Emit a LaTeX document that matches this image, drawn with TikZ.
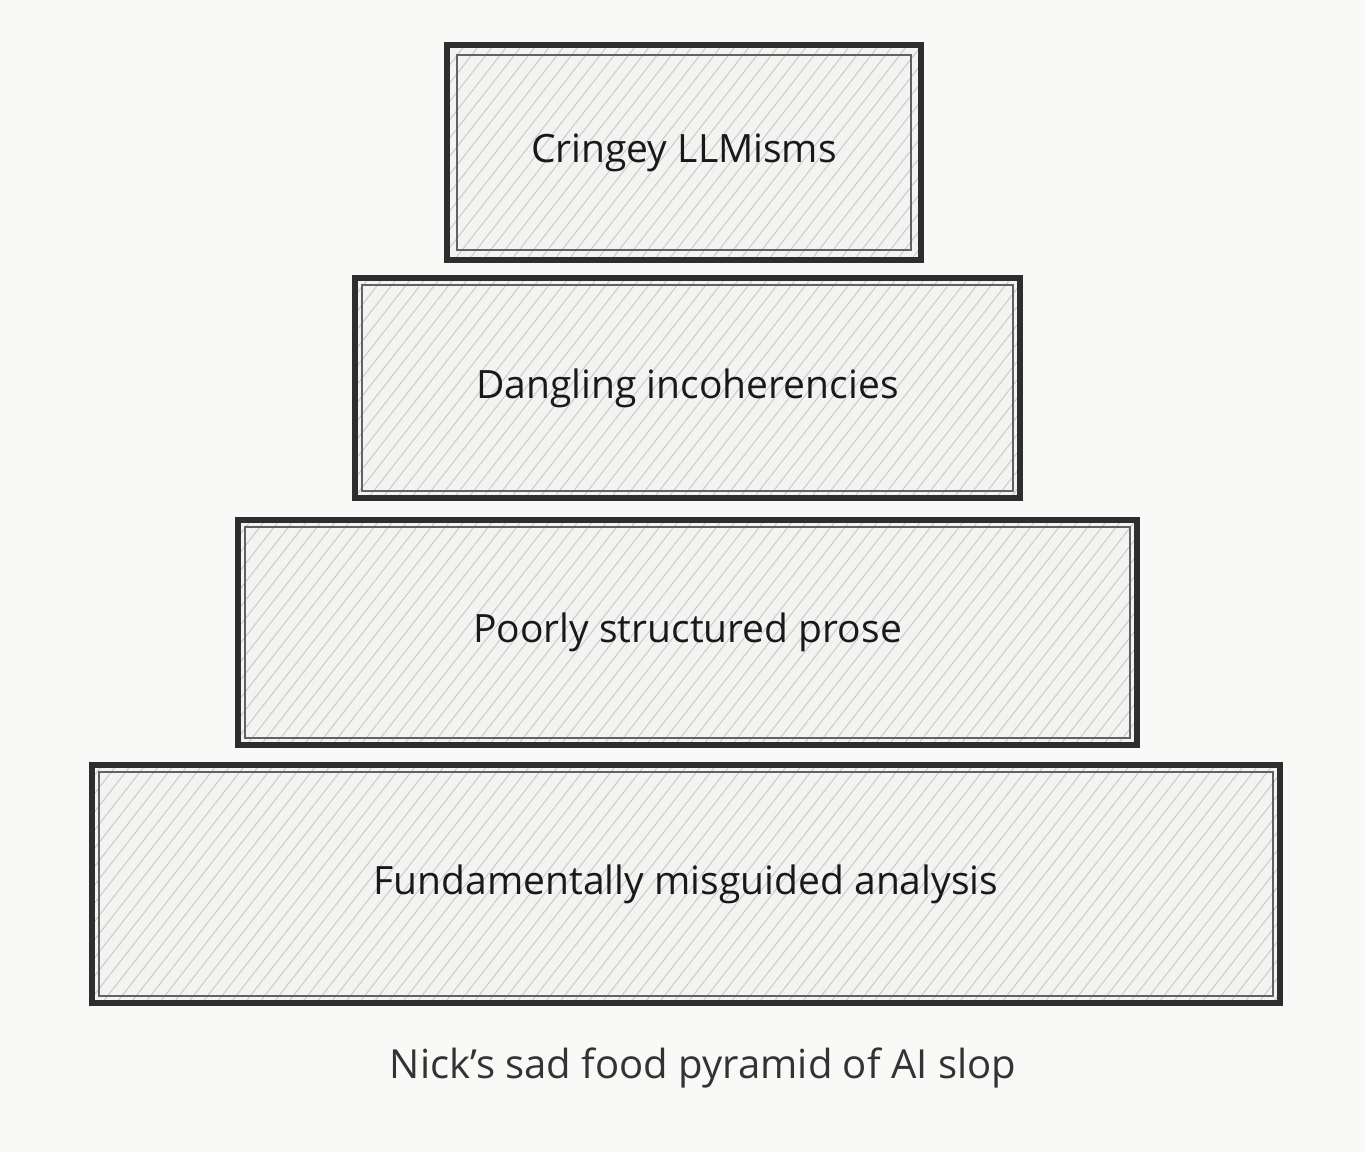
\documentclass[tikz,border=0pt]{standalone}
\usepackage{fontspec}
\setmainfont{Open Sans}
\usetikzlibrary{patterns.meta}
\definecolor{paper}{HTML}{F9F9F8}
\definecolor{boxfill}{HTML}{F3F3F2}
\definecolor{inkline}{HTML}{2E2E2E}
\tikzset{
    layer/.style={draw=inkline, line width=1.8pt, preaction={fill=boxfill},
        pattern={Lines[angle=52, distance=3.2pt, line width=0.25pt]}, pattern color=gray!45,
        inner sep=0pt, font=\fontsize{11.1}{14}\selectfont, text=black!90},
    inner/.style={draw=inkline!75, line width=0.6pt}
}
\begin{document}
\begin{tikzpicture}
    % 背景和边界
    \fill[paper] (0,0) rectangle (13.65,-11.52);

    % 绘制四层金字塔
    \node[layer, minimum width=4.74cm, minimum height=2.15cm] (top) at (6.84,-1.525) {Cringey LLMisms};
    \node[layer, minimum width=6.65cm, minimum height=2.20cm] (second) at (6.875,-3.88) {Dangling incoherencies};
    \node[layer, minimum width=8.99cm, minimum height=2.25cm] (third) at (6.875,-6.325) {Poorly structured prose};
    \node[layer, minimum width=11.88cm, minimum height=2.38cm] (base) at (6.86,-8.84) {Fundamentally misguided analysis};

    % 内侧细线
    \foreach \n in {top,second,third,base}
        \draw[inner] ([shift={(3pt,-3pt)}]\n.north west) rectangle ([shift={(-3pt,3pt)}]\n.south east);

    % 标题
    \node[text=black!80, font=\fontsize{11.4}{14}\selectfont] (caption) at (7.03,-10.68) {Nick's sad food pyramid of AI slop};

\end{tikzpicture}
\end{document}
